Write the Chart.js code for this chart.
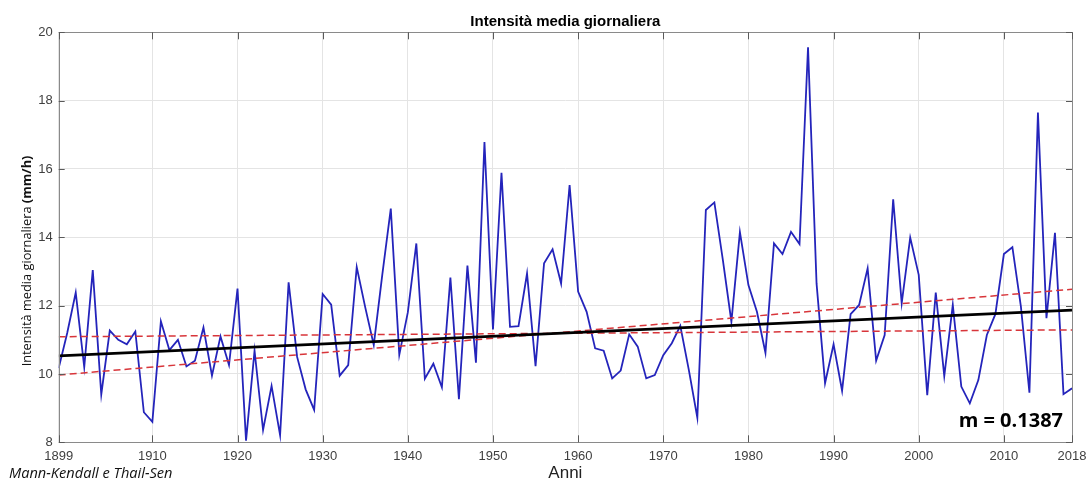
<!DOCTYPE html>
<html>
<head>
<meta charset="utf-8">
<script src="https://cdn.jsdelivr.net/npm/chart.js@4/dist/chart.umd.min.js"></script>
<style>
  html, body { margin: 0; padding: 0; background: #ffffff; }
  #c { display: block; }
</style>
</head>
<body>
<canvas id="c" width="1089" height="482"></canvas>
<script>
// ---- data ----
const firstYear = 1899;
const lastYear = 2018;
const intensity = [
  10.17, 11.2, 12.38, 10.2, 13.04, 9.4, 11.27, 11.0, 10.87, 11.24,      // 1899-1908
  8.88, 8.6, 11.54, 10.7, 11.0, 10.22, 10.39, 11.36, 9.95, 11.1,        // 1909-1918
  10.26, 12.5, 8.05, 10.68, 8.36, 9.65, 8.21, 12.68, 10.5, 9.55,        // 1919-1928
  8.95, 12.34, 12.03, 9.95, 10.26, 13.13, 11.95, 10.85, 12.9, 14.84,    // 1929-1938
  10.56, 11.8, 13.82, 9.86, 10.3, 9.61, 12.82, 9.26, 13.17, 10.33,      // 1939-1948
  16.79, 11.3, 15.89, 11.38, 11.4, 12.94, 10.23, 13.24, 13.65, 12.65,   // 1949-1958
  15.53, 12.41, 11.82, 10.75, 10.68, 9.87, 10.1, 11.16, 10.8, 9.87,     // 1959-1968
  9.97, 10.55, 10.9, 11.41, 10.12, 8.72, 14.8, 15.02, 13.33, 11.53,     // 1969-1978
  14.15, 12.6, 11.82, 10.62, 13.82, 13.51, 14.16, 13.8, 19.56, 12.65,   // 1979-1988
  9.73, 10.87, 9.51, 11.75, 12.02, 13.09, 10.39, 11.14, 15.11, 12.07,   // 1989-1998
  13.99, 12.9, 9.38, 12.38, 9.94, 12.02, 9.63, 9.14, 9.82, 11.14,       // 1999-2008
  11.75, 13.51, 13.71, 11.97, 9.45, 17.65, 11.63, 14.13, 9.41, 9.58     // 2009-2018
];
const years = [];
for (let y = firstYear; y <= lastYear; y++) years.push(y);

// Sen trend line and confidence bounds (values at first / last year)
const trendYears = [1899, 2018];
const senTrend = [10.53, 11.87];
const boundA = [11.09, 11.29];
const boundB = [9.97, 12.48];

const xTickValues = [1899, 1910, 1920, 1930, 1940, 1950, 1960, 1970, 1980, 1990, 2000, 2010, 2018];
const yTickValues = [8, 10, 12, 14, 16, 18, 20];

const chartTitle = 'Intensità media giornaliera';
const yTitleMain = 'Intensità media giornaliera ';
const yTitleUnit = '(mm/h)';
const xTitle = 'Anni';
const methodNote = 'Mann-Kendall e Thail-Sen';
const slopeNote = 'm = 0.1387';

// ---- build ----
const toPts = (xs, ys) => xs.map((x, i) => ({ x: x, y: ys[i] }));

const decor = {
  id: 'decor',
  afterDraw(chart) {
    const ctx = chart.ctx;
    const a = chart.chartArea;
    const xs = chart.scales.x, ys = chart.scales.y;
    ctx.save();
    // frame
    ctx.strokeStyle = '#8a8a8a';
    ctx.lineWidth = 1;
    ctx.strokeRect(Math.round(a.left) + 0.5, Math.round(a.top) + 0.5,
                   Math.round(a.right - a.left), Math.round(a.bottom - a.top));
    // inward ticks
    ctx.strokeStyle = '#5a5a5a';
    ctx.beginPath();
    xTickValues.forEach(v => {
      const px = Math.round(xs.getPixelForValue(v)) + 0.5;
      ctx.moveTo(px, a.bottom); ctx.lineTo(px, a.bottom - 7);
      ctx.moveTo(px, a.top); ctx.lineTo(px, a.top + 7);
    });
    yTickValues.forEach(v => {
      const py = Math.round(ys.getPixelForValue(v)) + 0.5;
      ctx.moveTo(a.left, py); ctx.lineTo(a.left + 6, py);
      ctx.moveTo(a.right, py); ctx.lineTo(a.right - 6, py);
    });
    ctx.stroke();

    // title
    ctx.fillStyle = '#000';
    ctx.textBaseline = 'middle';
    ctx.textAlign = 'center';
    ctx.font = 'bold 15px "Liberation Sans", Arial, sans-serif';
    ctx.fillText(chartTitle, (a.left + a.right) / 2, 22);

    // x title
    ctx.fillStyle = '#222';
    ctx.font = '17px "Liberation Sans", Arial, sans-serif';
    ctx.fillText(xTitle, (a.left + a.right) / 2, 473);

    // y title (rotated)
    ctx.save();
    ctx.translate(27, 261);
    ctx.rotate(-Math.PI / 2);
    ctx.fillStyle = '#111';
    const f1 = '12.8px "Open Sans", sans-serif';
    const f2 = 'bold 12.8px "Open Sans", sans-serif';
    ctx.font = f1; const w1 = ctx.measureText(yTitleMain).width;
    ctx.font = f2; const w2 = ctx.measureText(yTitleUnit).width;
    const start = -(w1 + w2) / 2;
    ctx.textAlign = 'left';
    ctx.font = f1; ctx.fillText(yTitleMain, start, 0);
    ctx.font = f2; ctx.fillText(yTitleUnit, start + w1, 0);
    ctx.restore();

    // method note
    ctx.fillStyle = '#111';
    ctx.textAlign = 'left';
    ctx.font = 'italic 14.6px "Open Sans", sans-serif';
    ctx.fillText(methodNote, 9, 474);

    // slope note
    ctx.fillStyle = '#000';
    ctx.textAlign = 'right';
    ctx.font = 'bold 20px "Open Sans", sans-serif';
    ctx.fillText(slopeNote, 1063, 421);
    ctx.restore();
  }
};

new Chart(document.getElementById('c'), {
  type: 'line',
  data: {
    datasets: [
      {
        label: 'Sen',
        data: toPts(trendYears, senTrend),
        borderColor: '#000000',
        borderWidth: 2.6,
        pointRadius: 0,
        order: 1
      },
      {
        label: 'Bound A',
        data: toPts(trendYears, boundA),
        borderColor: '#d8353a',
        borderWidth: 1.5,
        borderDash: [7, 4],
        pointRadius: 0,
        order: 2
      },
      {
        label: 'Bound B',
        data: toPts(trendYears, boundB),
        borderColor: '#d8353a',
        borderWidth: 1.5,
        borderDash: [7, 4],
        pointRadius: 0,
        order: 2
      },
      {
        label: 'Intensità',
        data: toPts(years, intensity),
        borderColor: '#2424bb',
        borderWidth: 1.8,
        pointRadius: 0,
        tension: 0,
        order: 3
      }
    ]
  },
  options: {
    responsive: false,
    animation: false,
    layout: { padding: { top: 32.3, right: 17, bottom: 0, left: 0 } },
    plugins: {
      legend: { display: false },
      tooltip: { enabled: false },
      title: { display: false }
    },
    scales: {
      x: {
        type: 'linear',
        min: firstYear,
        max: lastYear,
        afterBuildTicks: s => { s.ticks = xTickValues.map(v => ({ value: v })); },
        afterFit: s => { s.height = 39.7; s.paddingLeft = 0; s.paddingRight = 0; },
        grid: { color: '#e4e4e4', lineWidth: 1, drawTicks: false },
        border: { display: false },
        ticks: {
          padding: 6,
          color: '#3f3f3f',
          font: { family: '"Liberation Sans", Arial, sans-serif', size: 13 },
          maxRotation: 0,
          autoSkip: false,
          callback: v => String(v)
        }
      },
      y: {
        min: 8,
        max: 20,
        afterBuildTicks: s => { s.ticks = yTickValues.map(v => ({ value: v })); },
        afterFit: s => { s.width = 58.7; },
        grid: { color: '#e4e4e4', lineWidth: 1, drawTicks: false },
        border: { display: false },
        ticks: {
          padding: 6,
          color: '#3f3f3f',
          font: { family: '"Liberation Sans", Arial, sans-serif', size: 13 },
          callback: v => String(v)
        }
      }
    }
  },
  plugins: [decor]
});
</script>
</body>
</html>
